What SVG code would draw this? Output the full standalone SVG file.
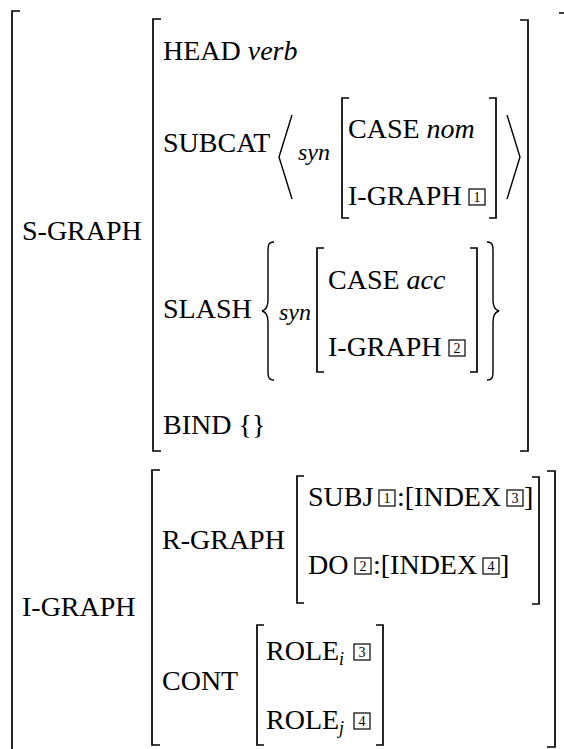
<svg xmlns="http://www.w3.org/2000/svg" width="564" height="749" viewBox="0 0 564 749">
<style>
.t{font-family:"Liberation Serif","Times New Roman",serif;font-size:28px;fill:#000}
.it{font-style:italic}
.syn{font-family:"Liberation Serif","Times New Roman",serif;font-size:24px;font-style:italic;fill:#000}
.sub{font-family:"Liberation Serif","Times New Roman",serif;font-size:18px;font-style:italic;fill:#000}
.br{fill:none;stroke:#000;stroke-width:1.7}
.dl{fill:none;stroke:#000;stroke-width:1.4}
.bx{fill:none;stroke:#000;stroke-width:1.2}
.n{font-family:"Liberation Serif","Times New Roman",serif;font-size:14px;fill:#000;text-anchor:middle}
</style>
<rect width="564" height="749" fill="#fff"/>
<g id="outer">
<path class="br" d="M20 11H12V752"/>
<path class="br" d="M559 13H567V760"/>
</g>
<g id="s-graph">
<text class="t" x="22" y="240">S-GRAPH</text>
<path class="br" d="M161 19H153V451H161"/>
<path class="br" d="M520 20H528V451H520"/>
<text class="t" x="163" y="60">HEAD <tspan class="it">verb</tspan></text>
<g id="subcat">
<text class="t" x="163" y="152">SUBCAT</text>
<path class="dl" d="M292 115L279 157L292 199"/>
<text class="syn" x="298" y="160">syn</text>
<path class="br" d="M349 98H342V218H349"/>
<path class="br" d="M489 98H496V218H489"/>
<text class="t" x="348" y="138">CASE <tspan class="it">nom</tspan></text>
<text class="t" x="348" y="205">I-GRAPH</text>
<rect class="bx" x="469" y="189" width="16" height="16"/><text class="n" x="477" y="202">1</text>
<path class="dl" d="M507 115L520 157L507 199"/>
</g>
<g id="slash">
<text class="t" x="163" y="318">SLASH</text>
<path class="dl" d="M274 242C268 242 268 246 268 252L268 300C268 306 266 310 262 311C266 312 268 316 268 322L268 370C268 376 268 380 274 380"/>
<text class="syn" x="279" y="320">syn</text>
<path class="br" d="M324 248H317V372H324"/>
<path class="br" d="M470 248H477V372H470"/>
<text class="t" x="328" y="289">CASE <tspan class="it">acc</tspan></text>
<text class="t" x="328" y="356">I-GRAPH</text>
<rect class="bx" x="449" y="340" width="16" height="16"/><text class="n" x="457" y="353">2</text>
<path class="dl" d="M487 242C493 242 493 246 493 252L493 300C493 306 495 310 499 311C495 312 493 316 493 322L493 370C493 376 493 380 487 380"/>
</g>
<text class="t" x="163" y="434">BIND {}</text>
</g>
<g id="i-graph">
<text class="t" x="22" y="616">I-GRAPH</text>
<path class="br" d="M160 470H152V745H160"/>
<path class="br" d="M547 471H555V747H547"/>
<g id="r-graph">
<text class="t" x="162" y="549">R-GRAPH</text>
<path class="br" d="M304 476H297V603H304"/>
<path class="br" d="M532 477H539V604H532"/>
<text class="t" x="308" y="506">SUBJ</text>
<rect class="bx" x="379" y="490" width="16" height="16"/><text class="n" x="387" y="503">1</text>
<text class="t" x="397" y="506">:[INDEX</text>
<rect class="bx" x="507" y="490" width="16" height="16"/><text class="n" x="515" y="503">3</text>
<text class="t" x="524" y="506">]</text>
<text class="t" x="308" y="574">DO</text>
<rect class="bx" x="355" y="558" width="16" height="16"/><text class="n" x="363" y="571">2</text>
<text class="t" x="373" y="574">:[INDEX</text>
<rect class="bx" x="483" y="558" width="16" height="16"/><text class="n" x="491" y="571">4</text>
<text class="t" x="500" y="574">]</text>
</g>
<g id="cont">
<text class="t" x="162" y="690">CONT</text>
<path class="br" d="M264 625H257V745H264"/>
<path class="br" d="M376 625H383V745H376"/>
<text class="t" x="266" y="660">ROLE<tspan class="sub" dy="5">i</tspan></text>
<rect class="bx" x="354" y="644" width="16" height="16"/><text class="n" x="362" y="657">3</text>
<text class="t" x="266" y="729">ROLE<tspan class="sub" dy="5">j</tspan></text>
<rect class="bx" x="354" y="713" width="16" height="16"/><text class="n" x="362" y="726">4</text>
</g>
</g>
</svg>
